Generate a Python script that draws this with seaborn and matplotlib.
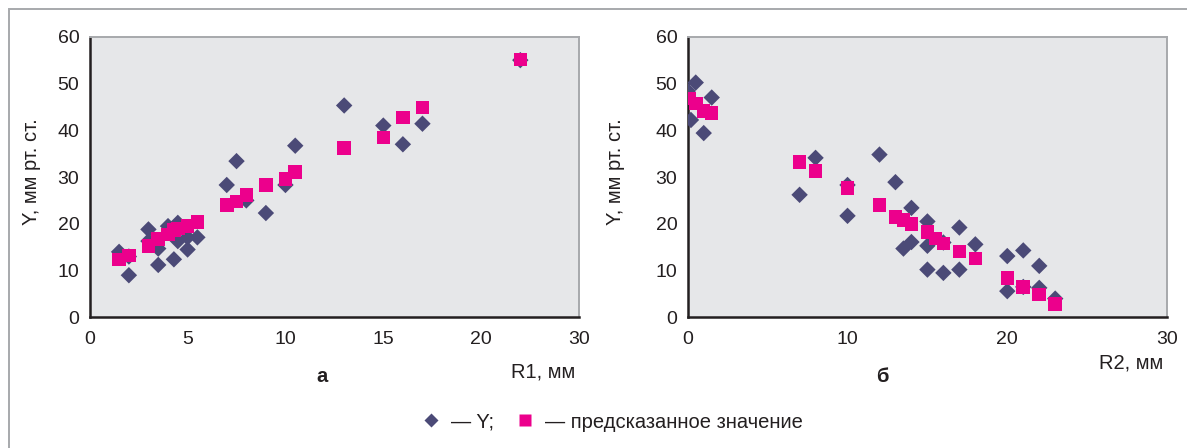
import matplotlib
matplotlib.use("Agg")
import matplotlib.pyplot as plt
import matplotlib.patches as patches
from matplotlib.lines import Line2D
import pandas as pd
import seaborn as sns

sns.set_style("white")
plt.rcParams['font.family'] = ['Liberation Sans', 'DejaVu Sans']

# panel а: R1
r1_actual_x = [1.5, 2, 2, 3, 3, 3.5, 3.5, 4, 4.3, 4.5, 4.5, 5, 5, 5.5, 7, 7.5, 8, 9, 10, 10.5, 13, 15, 16, 17, 22]
r1_actual_y = [14, 9, 13, 18.8, 16.3, 11.2, 14.7, 19.5, 12.4, 20.2, 16.3, 14.5, 17.1, 17.1, 28.3, 33.4, 25,
               22.3, 28.3, 36.7, 45.3, 41, 37, 41.4, 55]
r1_pred_x = [1.5, 2, 3, 3.5, 4, 4.3, 4.5, 5, 5.5, 7, 7.5, 8, 9, 10, 10.5, 13, 15, 16, 17, 22]
r1_pred_y = [12.4, 13.2, 15.2, 16.7, 17.7, 18.7, 19.0, 19.5, 20.4, 24.0, 24.8, 26.1, 28.3, 29.6, 31.1,
             36.2, 38.5, 42.7, 44.9, 55.1]

# panel б: R2
r2_actual_x = [0, 0.2, 0.5, 1, 1.5, 7, 8, 10, 10, 12, 13, 13.5, 14, 14, 15, 15, 15, 16, 16, 17, 17, 18,
               20, 20, 21, 21, 22, 22, 23]
r2_actual_y = [48.4, 42.2, 50.2, 39.4, 47, 26.2, 34.1, 21.7, 28.3, 34.8, 28.9, 14.7, 16.1, 23.4, 20.5,
               15.3, 10.2, 9.5, 16, 10.2, 19.2, 15.6, 13.1, 5.6, 14.3, 6.5, 11.0, 6.3, 4.0]
r2_pred_x = [0.1, 0.5, 1, 1.5, 7, 8, 10, 12, 13, 13.5, 14, 15, 15.5, 16, 17, 18, 20, 21, 22, 23]
r2_pred_y = [46.8, 45.7, 44.1, 43.7, 33.2, 31.3, 27.6, 24.0, 21.5, 20.8, 19.9, 18.2, 16.9, 15.8, 14.1,
             12.6, 8.4, 6.5, 4.9, 2.9]

r1_xticks = [0, 5, 10, 15, 20, 25]
r1_xticklabels = ["0", "5", "10", "15", "20", "30"]
r2_xticks = [0, 10, 20, 30]
yticks = [0, 10, 20, 30, 40, 50, 60]

actual_color = "#4B4A77"
pred_color = "#EC008C"
bg_color = "#E6E7E9"
text_color = "#231F20"
FS = 14.5

fig = plt.figure(figsize=(11.87, 4.48), dpi=100)
ax1 = fig.add_axes([0.0756, 0.2917, 0.4122, 0.6263])
ax2 = fig.add_axes([0.5794, 0.2917, 0.4038, 0.6263])


def draw_panel(ax, ax_x, ax_y, pr_x, pr_y, xlim, xticks, xticklabels):
    df_a = pd.DataFrame({"x": ax_x, "y": ax_y})
    df_p = pd.DataFrame({"x": pr_x, "y": pr_y})
    sns.scatterplot(data=df_a, x="x", y="y", ax=ax, marker="D", s=70,
                    color=actual_color, edgecolor="none", zorder=3)
    sns.scatterplot(data=df_p, x="x", y="y", ax=ax, marker="s", s=95,
                    color=pred_color, edgecolor="none", zorder=4)
    ax.set_facecolor(bg_color)
    ax.set_xlim(*xlim)
    ax.set_ylim(0, 60)
    ax.set_xticks(xticks)
    ax.set_xticklabels(xticklabels)
    ax.set_yticks(yticks)
    ax.tick_params(axis="both", direction="inout", length=9, width=1.6, labelsize=14,
                   color=text_color, labelcolor=text_color, pad=3)
    ax.tick_params(axis="x", pad=5)
    for side in ["left", "bottom"]:
        ax.spines[side].set_color(text_color)
        ax.spines[side].set_linewidth(1.8)
    for side in ["top", "right"]:
        ax.spines[side].set_color("#A7A9AC")
        ax.spines[side].set_linewidth(1.4)
    ax.set_xlabel("")
    ax.set_ylabel("Y, мм рт. ст.", fontsize=FS, color=text_color)


draw_panel(ax1, r1_actual_x, r1_actual_y, r1_pred_x, r1_pred_y, (0, 25), r1_xticks, r1_xticklabels)
draw_panel(ax2, r2_actual_x, r2_actual_y, r2_pred_x, r2_pred_y, (0, 30), r2_xticks, [str(t) for t in r2_xticks])
ax1.yaxis.set_label_coords(-0.099, 0.52)
ax2.yaxis.set_label_coords(-0.131, 0.52)

fig.text(575 / 1187, 1 - 372 / 448, "R1, мм", ha="right", va="center", fontsize=FS, color=text_color)
fig.text(1163 / 1187, 1 - 363 / 448, "R2, мм", ha="right", va="center", fontsize=FS, color=text_color)
fig.text(322 / 1187, 1 - 377 / 448, "а", ha="center", va="center", fontsize=FS, fontweight="bold", color=text_color)
fig.text(882 / 1187, 1 - 377 / 448, "б", ha="center", va="center", fontsize=FS, fontweight="bold", color=text_color)

handles = [
    Line2D([], [], linestyle="none", marker="D", markersize=7, color=actual_color, markeredgecolor="none"),
    Line2D([], [], linestyle="none", marker="s", markersize=9, color=pred_color, markeredgecolor="none"),
]
fig.legend(handles, ["— Y;", "— предсказанное значение"], loc="center", ncol=2,
           bbox_to_anchor=(612 / 1187, 1 - 422 / 448), frameon=False, fontsize=FS,
           handletextpad=0.5, columnspacing=1.0, handlelength=1.0, labelcolor=text_color)

# outer frame of the figure
fig.add_artist(patches.Rectangle((9 / 1187, -0.5), 2.0, 0.5 + 1 - 9 / 448, transform=fig.transFigure,
                                 fill=False, edgecolor="#A7A9AC", linewidth=1.4))

fig.savefig("out.png", dpi=100)
